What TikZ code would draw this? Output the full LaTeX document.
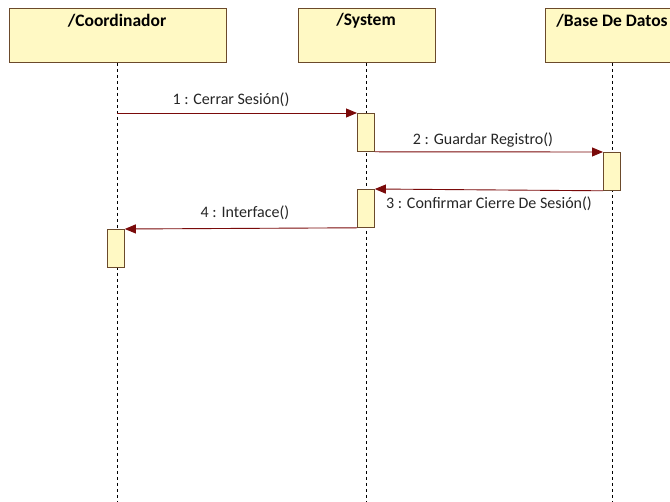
\documentclass[tikz,border=0pt]{standalone}
\usepackage{fontspec}
\setmainfont{Carlito}
\usetikzlibrary{arrows.meta}
\definecolor{boxfill}{HTML}{FFF9C4}
\definecolor{boxline}{HTML}{6B4A2B}
\definecolor{msgred}{HTML}{7A0A0A}
\tikzset{
  header/.style={draw=boxline, line width=0.9pt, fill=boxfill, anchor=north west, inner sep=0pt},
  headtext/.style={font=\fontsize{17.5}{19}\selectfont\bfseries, anchor=center, inner sep=0pt},
  lifeline/.style={draw=black, line width=0.7pt, dash pattern=on 3pt off 3pt},
  actbox/.style={draw=boxline, line width=0.8pt, fill=boxfill, minimum width=17pt, minimum height=38pt, inner sep=0pt, anchor=north west},
  msg/.style={draw=msgred, line width=0.9pt, -{Triangle[length=11pt,width=9pt]}},
  msglabel/.style={font=\fontsize{16}{18}\selectfont, inner sep=0pt, text=black!85}
}
\begin{document}
\begin{tikzpicture}[x=1pt,y=-1pt]
\clip (0,0) rectangle (670,502);
\fill[white] (0,0) rectangle (670,502);
% header boxes
\node[header, minimum width=217pt, minimum height=54pt] (hc) at (9,8) {};
\node[header, minimum width=137pt, minimum height=54pt] (hs) at (298,8) {};
\node[header, minimum width=134pt, minimum height=54pt] (hb) at (545,8) {};
\node[headtext] (tc) at (117,21) {/Coordinador};
\node[headtext] (ts) at (366,21) {/System};
\node[headtext] (tb) at (612,21) {/Base De Datos};
% lifelines
\coordinate (ec) at (117,502);
\coordinate (es) at (366,502);
\coordinate (eb) at (612,502);
\draw[lifeline] (hc.south -| ec) -- (ec);
\draw[lifeline] (hs.south -| es) -- (es);
\draw[lifeline] (hb.south -| eb) -- (eb);
% activations
\node[actbox] (a1) at (357,113) {};
\node[actbox] (a2) at (603,152) {};
\node[actbox] (a3) at (357,189) {};
\node[actbox] (a4) at (107,229) {};
% messages
\coordinate (m1s) at (117,113);
\draw[msg] (m1s) -- (a1.north west);
\node[msglabel] (l1) at (231,100) {1 : Cerrar Sesión()};
\draw[msg] (a1.south east) -- (a2.north west);
\node[msglabel] (l2) at (483,140) {2 : Guardar Registro()};
\draw[msg] (a2.south west) -- (a3.north east);
\node[msglabel] (l3) at (489,204) {3 : Confirmar Cierre De Sesión()};
\draw[msg] (a3.south west) -- (a4.north east);
\node[msglabel] (l4) at (245,213) {4 : Interface()};
\end{tikzpicture}
\end{document}
